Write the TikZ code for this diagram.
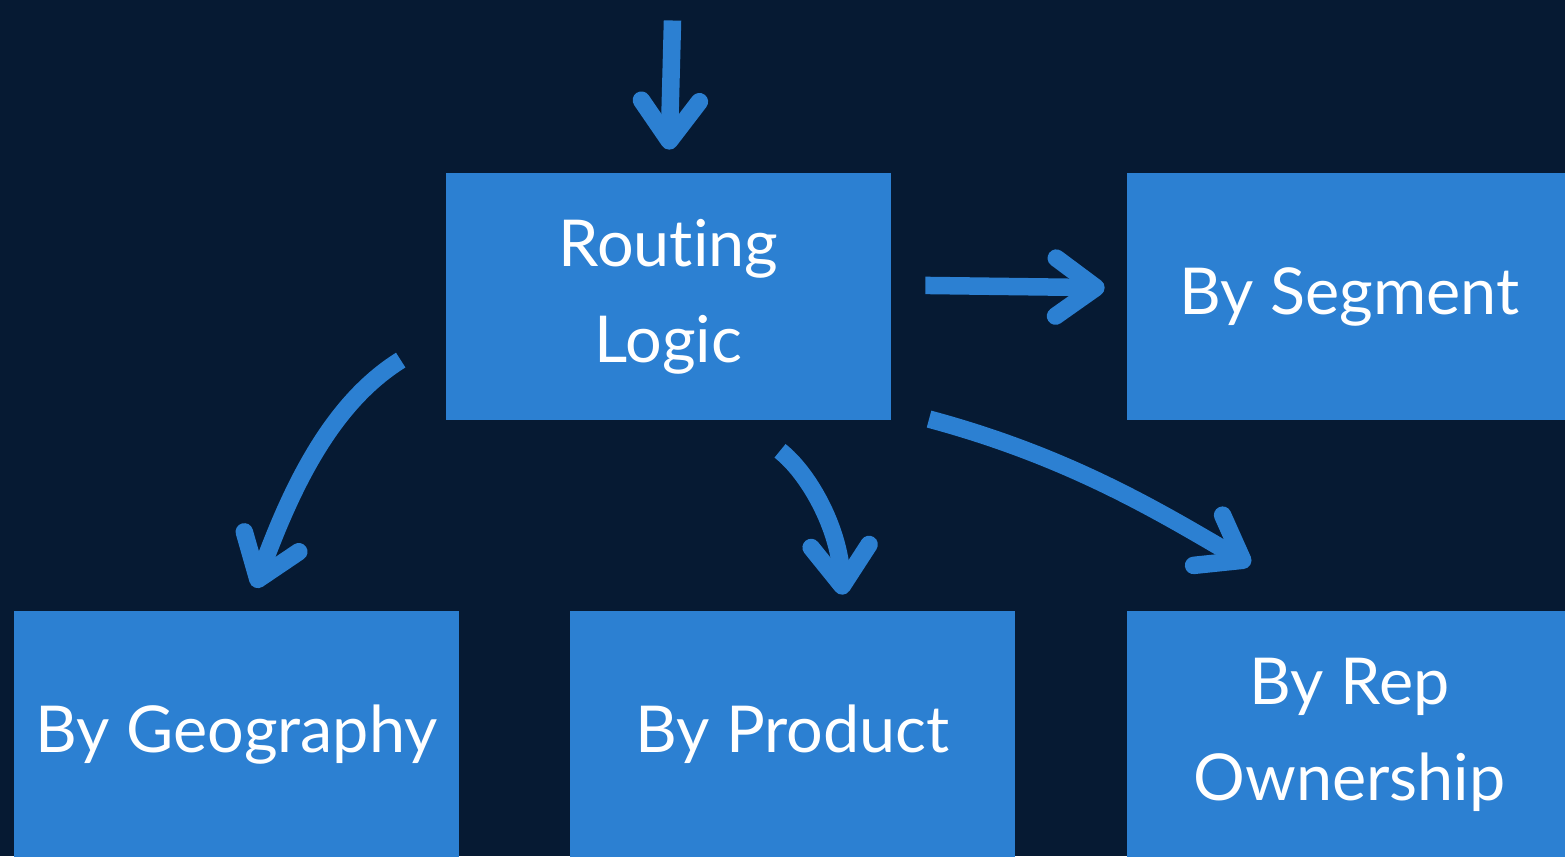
\documentclass[tikz,border=0pt]{standalone}
\usepackage{fontspec}
\setmainfont{Lato}[Ligatures=NoCommon]
\usetikzlibrary{arrows.meta,positioning,calc}

\definecolor{navy}{RGB}{6,26,51}
\definecolor{routeblue}{RGB}{44,128,210}

\begin{document}
\begin{tikzpicture}[>={Straight Barb[length=0.8cm,width=1.16cm,round]}, line join=round]

\fill[navy] (0,0) rectangle (31.3,-17.12);
\useasboundingbox (0,0) rectangle (31.3,-17.12);

\tikzset{
  box/.style={fill=routeblue, text=white, minimum width=8.9cm, minimum height=4.94cm, align=center, font=\fontsize{36.8}{54.6}\selectfont},
  flow/.style={->, draw=routeblue, line width=0.35cm}
}

\node[box] (logic) at (13.37,-5.93) {Routing\\Logic};
\node[box] (segment) at (26.99,-5.93) {By Segment};
\node[box] (geo) at (4.73,-14.69) {By Geography};
\node[box] (product) at (15.85,-14.69) {By Product};
\node[box] (rep) at (26.99,-14.69) {By Rep\\Ownership};
\coordinate (in) at (13.45,-0.41);

\draw[flow, shorten >=0.46cm] (in) -- (logic.north);
\draw[flow, shorten <=0.68cm, shorten >=0.44cm] ([yshift=0.23cm]logic.east) -- ([yshift=0.17cm]segment.west);
\draw[flow, shorten <=1.06cm, shorten >=0.49cm] ([yshift=-0.71cm]logic.west) to[out=212, in=70] ([xshift=0.2cm]geo.north);
\draw[flow, shorten <=0.99cm, shorten >=0.32cm] ([xshift=1.45cm]logic.south) to[out=-38, in=93] ([xshift=1.02cm]product.north);
\draw[flow, shorten <=0.78cm, shorten >=1.84cm] ([yshift=-2.25cm]logic.east) to[out=-15, in=150] ([xshift=-0.39cm]rep.north);

\end{tikzpicture}
\end{document}
